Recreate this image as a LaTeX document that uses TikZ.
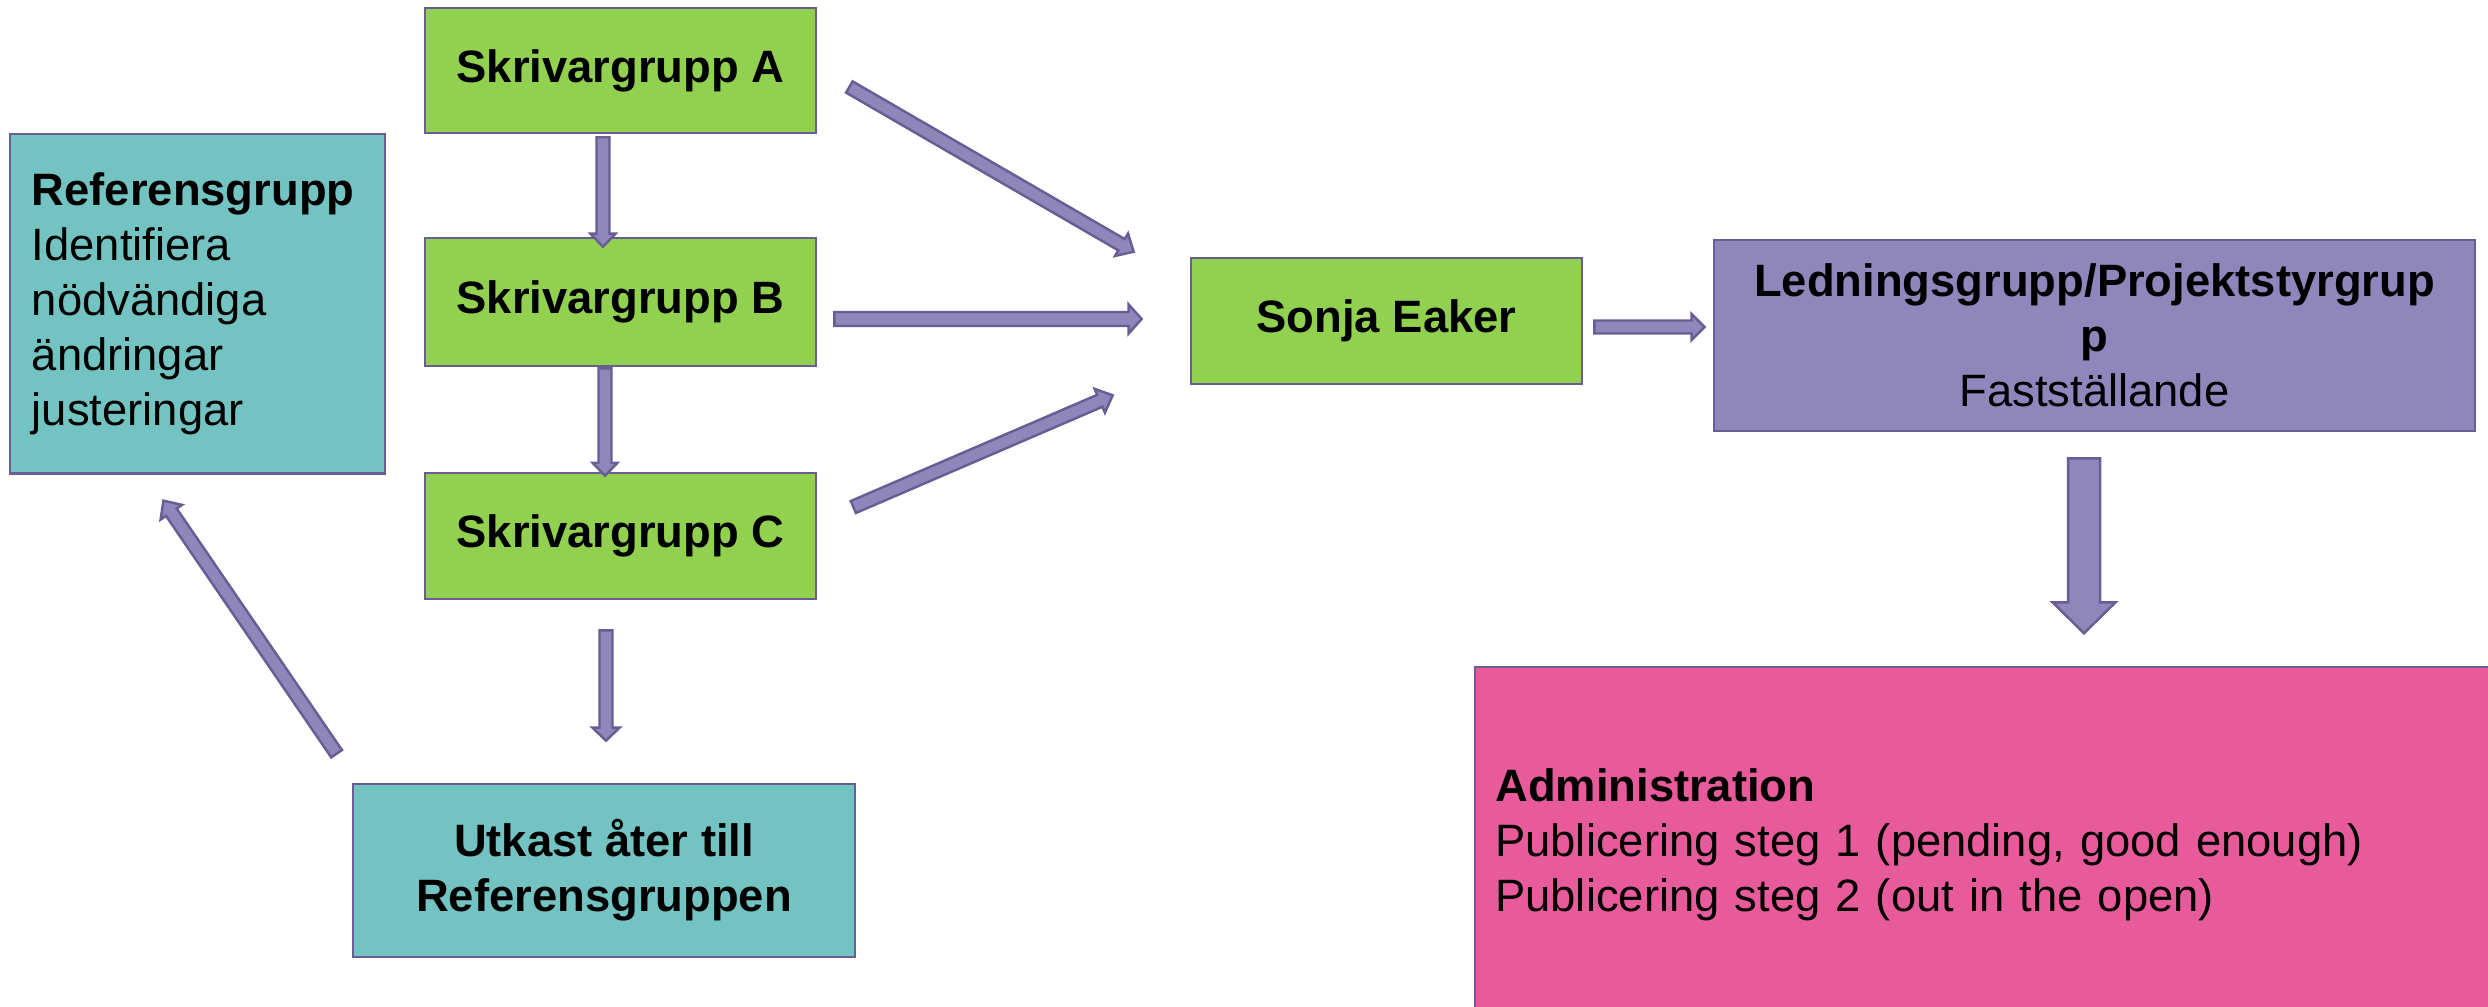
\documentclass[tikz,border=0pt]{standalone}
\usepackage{fontspec}
\setmainfont{Liberation Sans}
\usetikzlibrary{positioning,calc}

\definecolor{grpgreen}{HTML}{92D050}
\definecolor{refteal}{HTML}{72C3C1}
\definecolor{leadpurple}{HTML}{8F87BC}
\definecolor{adminpink}{HTML}{E85B9B}
\definecolor{edgepurple}{HTML}{6A5D93}
\definecolor{arrowfill}{HTML}{8F86BC}

% block arrow: tail, tip, half shaft, half head, head length
\newcommand{\blockarrow}[5]{%
  \coordinate (hb) at ($(#2)!#5!(#1)$);
  \draw[flowarrow] ($(#1)!#3!90:(#2)$) -- ($(hb)!#3!90:(#2)$)
    -- ($(hb)!#4!90:(#2)$) -- (#2) -- ($(hb)!#4!-90:(#2)$)
    -- ($(hb)!#3!-90:(#2)$) -- ($(#1)!#3!-90:(#2)$) -- cycle;}

\begin{document}
\begin{tikzpicture}[x=0.01cm,y=-0.01cm,
  box/.style={draw=edgepurple,line width=0.7pt,inner sep=0pt,
    font=\fontsize{12.9}{15.6}\selectfont},
  groupbox/.style={box,fill=grpgreen,minimum width=3.91cm,font=\fontsize{12.9}{15.6}\selectfont\bfseries},
  refbox/.style={box,fill=refteal},
  flowarrow/.style={draw=edgepurple,fill=arrowfill,line width=0.7pt,line join=miter}]

  \useasboundingbox (0,0) rectangle (2488,1006);
  \clip (0,0) rectangle (2488,1006);

  %--- writing groups ---
  \node[groupbox,minimum height=1.25cm] (skA) at (620.5,70.5) {Skrivargrupp A};
  \node[groupbox,minimum height=1.28cm] (skB) at (620.5,302) {Skrivargrupp B};
  \node[groupbox,minimum height=1.26cm] (skC) at (620.5,536) {Skrivargrupp C};

  %--- reference group and draft ---
  \node[refbox,anchor=north west,text width=3.31cm,inner xsep=0.22cm,
        align=left,minimum height=3.39cm] (ref) at (8.6,133)
        {\textbf{Referensgrupp}\\Identifiera\\nödvändiga\\ändringar\\justeringar};
  \node[refbox,minimum width=5.02cm,minimum height=1.73cm,align=center,
        font=\fontsize{12.9}{15.6}\selectfont\bfseries] (utk) at (604,870.5)
        {Utkast åter till\\Referensgruppen};

  %--- editor ---
  \node[groupbox,minimum height=1.26cm] (sonja) at (1386.5,321) {Sonja Eaker};

  %--- steering group ---
  \node[box,fill=leadpurple,minimum width=7.61cm,minimum height=1.91cm,
        align=center] (led) at (2094.5,335.5)
        {\textbf{Ledningsgrupp/Projektstyrgrup}\\\textbf{p}\\Fastställande};

  %--- administration (runs off the page) ---
  \node[box,fill=adminpink,anchor=north west,text width=9.96cm,inner xsep=0.2cm,
        align=left,minimum height=3.55cm] (admin) at (1474,666)
        {\textbf{Administration}\\Publicering steg 1 (pending, good enough)\\
         Publicering steg 2 (out in the open)};

  %--- arrow ends ---
  \coordinate (a2b-s) at ($(skA.south)+(-17.5,3)$);
  \coordinate (a2b-t) at ($(skB.north)+(-17.5,10)$);
  \coordinate (b2c-s) at ($(skB.south)+(-15.5,1)$);
  \coordinate (b2c-t) at ($(skC.north)+(-15.5,4)$);
  \coordinate (c2u-s) at ($(skC.south)+(-14.5,30)$);
  \coordinate (c2u-t) at ($(utk.north)+(2,-42)$);
  \coordinate (u2r-s) at ($(utk.north west)+(-15,-29)$);
  \coordinate (u2r-t) at ($(ref.south)+(-34,26)$);
  \coordinate (a2s-s) at ($(skA.east)+(32,16.5)$);
  \coordinate (a2s-t) at ($(sonja.north west)+(-56,-5)$);
  \coordinate (b2s-s) at ($(skB.east)+(17,17)$);
  \coordinate (b2s-t) at ($(sonja.west)+(-48,-2)$);
  \coordinate (c2s-s) at ($(skC.east)+(36,-29)$);
  \coordinate (c2s-t) at ($(sonja.south west)+(-77,10)$);
  \coordinate (s2l-s) at ($(sonja.east)+(11,6)$);
  \coordinate (s2l-t) at ($(led.west)+(-8,-8.5)$);
  \coordinate (l2a-s) at ($(led.south)+(-10.5,26)$);
  \coordinate (l2a-t) at ($(led.south)+(-10.5,201)$);

  %--- arrows ---
  \blockarrow{a2b-s}{a2b-t}{0.065cm}{0.125cm}{0.13cm}
  \blockarrow{b2c-s}{b2c-t}{0.065cm}{0.125cm}{0.13cm}
  \blockarrow{c2u-s}{c2u-t}{0.065cm}{0.135cm}{0.13cm}
  \blockarrow{u2r-s}{u2r-t}{0.065cm}{0.13cm}{0.14cm}
  \blockarrow{a2s-s}{a2s-t}{0.065cm}{0.13cm}{0.14cm}
  \blockarrow{b2s-s}{b2s-t}{0.07cm}{0.145cm}{0.13cm}
  \blockarrow{c2s-s}{c2s-t}{0.065cm}{0.13cm}{0.14cm}
  \blockarrow{s2l-s}{s2l-t}{0.065cm}{0.13cm}{0.13cm}
  \blockarrow{l2a-s}{l2a-t}{0.16cm}{0.315cm}{0.31cm}

\end{tikzpicture}
\end{document}
